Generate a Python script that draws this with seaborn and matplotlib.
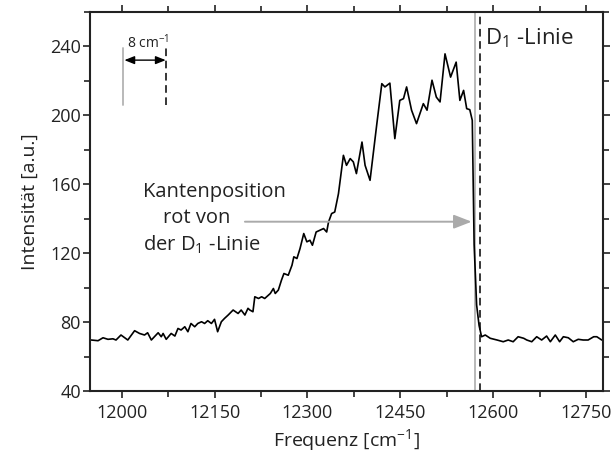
import numpy as np
import pandas as pd
import matplotlib
matplotlib.use("Agg")
import matplotlib.pyplot as plt
from matplotlib.ticker import MultipleLocator
import seaborn as sns

# ---- data ----
freq = [11951, 11962, 11970, 11978, 11986, 11991, 11999, 12010, 12021, 12029,
        12037, 12042, 12048, 12059, 12064, 12067, 12072, 12080, 12086, 12091,
        12096, 12102, 12107, 12112, 12118, 12123, 12129, 12134, 12139, 12145,
        12150, 12155, 12161, 12166, 12172, 12180, 12188, 12193, 12199, 12204,
        12207, 12212, 12215, 12221, 12226, 12231, 12240, 12245, 12248, 12253,
        12258, 12262, 12269, 12275, 12278, 12283, 12288, 12294, 12299, 12304,
        12308, 12314, 12320, 12326, 12331, 12334, 12339, 12344, 12350, 12358,
        12363, 12369, 12374, 12379, 12388, 12393, 12401, 12412, 12420, 12425,
        12433, 12441, 12449, 12455, 12460, 12468, 12476, 12487, 12493, 12501,
        12508, 12514, 12522, 12531, 12540, 12546, 12552, 12557, 12562, 12566,
        12569, 12573, 12577, 12581, 12587, 12595, 12606, 12616, 12624, 12632,
        12640, 12649, 12654, 12662, 12670, 12678, 12686, 12692, 12700, 12707,
        12713, 12721, 12729, 12737, 12745, 12753, 12762, 12767, 12775]
intensity = [69.6, 69.2, 70.9, 70.0, 70.3, 69.6, 72.5, 69.6, 75.0, 73.4,
             72.5, 73.8, 69.6, 73.8, 71.5, 73.4, 70.0, 73.4, 71.9, 76.3,
             75.4, 77.3, 74.4, 79.2, 77.3, 79.2, 80.2, 79.2, 80.8, 79.2,
             81.6, 74.4, 80.2, 82.1, 84.1, 87.0, 85.0, 87.0, 84.1, 88.0,
             87.0, 86.0, 94.7, 93.7, 94.7, 93.7, 96.6, 99.5, 96.6, 98.6,
             104.3, 108.2, 107.2, 113.0, 117.9, 116.9, 122.7, 131.4, 126.6, 127.5,
             124.6, 132.3, 133.3, 134.3, 132.3, 138.1, 143.0, 143.9, 154.5, 176.8,
             171.0, 174.9, 173.0, 166.2, 184.5, 171.0, 162.3, 195.2, 218.4, 216.5,
             218.7, 186.5, 208.7, 209.7, 216.5, 203.0, 195.2, 206.8, 203.0, 220.4,
             210.6, 207.8, 235.7, 222.2, 230.9, 208.7, 214.5, 203.9, 203.3, 197.1,
             125.0, 90.0, 78.0, 71.5, 72.5, 70.6, 69.6, 68.6, 69.6, 68.6,
             71.5, 70.6, 69.6, 68.6, 71.5, 69.6, 71.9, 68.6, 72.5, 68.6,
             71.5, 70.9, 68.6, 70.0, 69.6, 69.6, 71.5, 71.5, 69.6]
edge_pos = 12570      # grey line: edge position
d1_line = 12579       # dashed line: D1 line
x_ticks = [12000, 12150, 12300, 12450, 12600, 12750]
y_ticks = [40, 80, 120, 160, 200, 240]

df = pd.DataFrame({"Frequenz": freq, "Intensitaet": intensity})

sns.set_theme(style="ticks")
plt.rcParams["font.family"] = ["Open Sans", "DejaVu Sans"]
plt.rcParams["mathtext.fontset"] = "custom"
plt.rcParams["mathtext.rm"] = "Open Sans"
plt.rcParams["mathtext.it"] = "Open Sans:italic"
plt.rcParams["mathtext.bf"] = "Open Sans:bold"

fig = plt.figure(figsize=(6.13, 4.63), dpi=100)
ax = fig.add_axes([90 / 613, 1 - 391 / 463, 513 / 613, 379 / 463])

sns.lineplot(data=df, x="Frequenz", y="Intensitaet", ax=ax, color="black",
             lw=1.2, sort=False, estimator=None)

ax.axvline(edge_pos, color="#b3b3b3", lw=1.3, zorder=1)
ax.axvline(d1_line, color="black", lw=1.1, ls=(0, (5, 3)), zorder=1)

ax.set_xlim(11949, 12777)
ax.set_ylim(40, 260)
ax.set_xticks(x_ticks)
ax.set_yticks(y_ticks)
ax.xaxis.set_minor_locator(MultipleLocator(75))
ax.yaxis.set_minor_locator(MultipleLocator(20))
ax.tick_params(which="both", direction="out", top=True, right=True,
               labeltop=False, labelright=False, width=1.2, color="#222222",
               labelsize=13, labelcolor="#222222")
ax.tick_params(which="major", length=5)
ax.tick_params(which="minor", length=4)
ax.tick_params(axis="y", which="major", pad=1.5)
ax.tick_params(axis="x", which="major", pad=4)
for s in ax.spines.values():
    s.set_linewidth(1.5)
    s.set_color("#222222")

ax.set_xlabel(r"Frequenz [cm$^{\mathregular{-1}}$]", fontsize=14,
              color="#222222", labelpad=4)
ax.set_ylabel("Intensität [a.u.]", fontsize=14, color="#222222", labelpad=8)

# D1 label
ax.text(0.77, 0.931, r"D$_{\mathregular{1}}$ -Linie", transform=ax.transAxes,
        fontsize=16, ha="left", va="center", color="#222222")

# annotation with arrow
ax.annotate("", xy=(0.744, 0.4467), xytext=(0.302, 0.4467),
            xycoords="axes fraction", textcoords="axes fraction",
            arrowprops=dict(arrowstyle="-|>,head_length=0.9,head_width=0.35",
                            color="#aaaaaa", lw=1.4, shrinkA=0, shrinkB=0))
txt_kw = dict(transform=ax.transAxes, fontsize=14.5, va="baseline",
              color="#222222")
ax.text(0.1033, 0.512, "Kantenposition", ha="left", **txt_kw)
ax.text(0.2086, 0.443, "rot von", ha="center", **txt_kw)
ax.text(0.1033, 0.369, r"der D$_{\mathregular{1}}$ -Linie", ha="left", **txt_kw)

# scale inset (8 cm-1)
ax.plot([0.0637, 0.0637], [0.7546, 0.905], transform=ax.transAxes,
        color="#b3b3b3", lw=1.3)
ax.plot([0.1476, 0.1476], [0.7546, 0.905], transform=ax.transAxes,
        color="black", lw=1.1, ls=(0, (5, 3)))
ax.annotate("", xy=(0.1476, 0.873), xytext=(0.067, 0.873),
            xycoords="axes fraction", textcoords="axes fraction",
            arrowprops=dict(arrowstyle="<|-|>,head_length=0.5,head_width=0.2",
                            color="black", lw=1.0, shrinkA=0, shrinkB=0))
ax.text(0.113, 0.918, r"8 cm$^{\mathregular{-1}}$", transform=ax.transAxes,
        fontsize=10, ha="center", va="center", color="#222222")

fig.savefig("out.png", dpi=100)
